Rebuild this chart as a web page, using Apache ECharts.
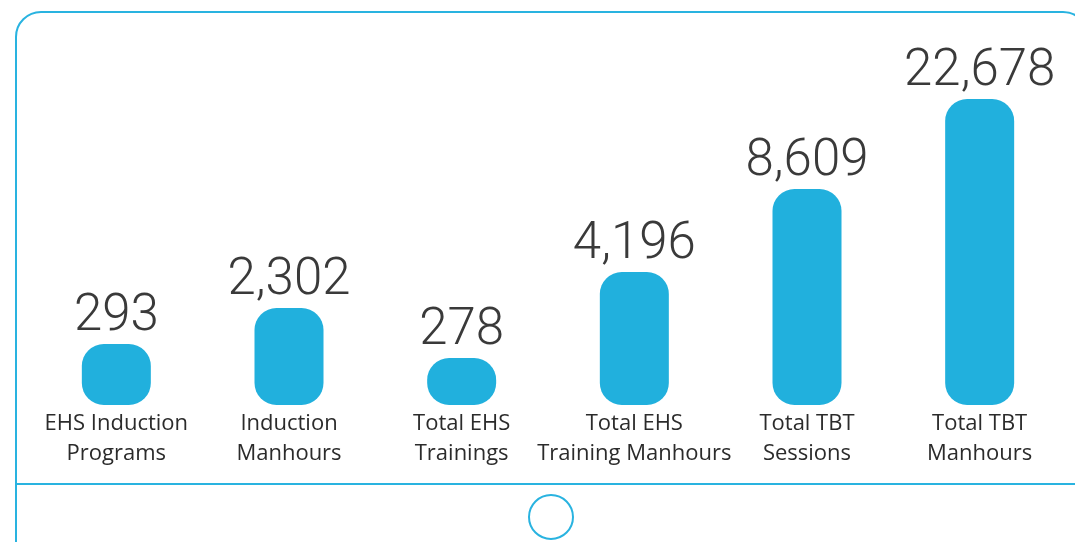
<!DOCTYPE html>
<html><head><meta charset="utf-8">
<script src="https://cdn.jsdelivr.net/npm/echarts@6/dist/echarts.min.js"></script>
<style>html,body{margin:0;padding:0;background:#fff}#c{width:1075px;height:542px}</style>
</head><body><div id="c"></div>
<script>
const categories = ['EHS Induction\nPrograms','Induction\nManhours','Total EHS\nTrainings','Total EHS\nTraining Manhours','Total TBT\nSessions','Total TBT\nManhours'];
const values = [293, 2302, 278, 4196, 8609, 22678];
// visual bar heights as drawn in the infographic (not proportional to values)
const barHeights = [61, 97, 47, 133, 216, 306];

const chart = echarts.init(document.getElementById('c'));
chart.setOption({
  animation: false,
  grid: {left: 30, right: 9, top: 85, bottom: 137},
  xAxis: {
    type: 'category', data: categories,
    axisLine: {show: false}, axisTick: {show: false},
    axisLabel: {color: '#2b2b2b', fontFamily: 'Open Sans', fontSize: 22, lineHeight: 30, margin: 4, interval: 0}
  },
  yAxis: {type: 'value', min: 0, max: 320, show: false, splitLine: {show: false}},
  series: [{
    type: 'bar',
    data: barHeights.map((h, i) => ({value: h, realValue: values[i]})),
    barWidth: 69,
    itemStyle: {color: '#21b0dd', borderRadius: 22},
    label: {
      show: true, position: 'top', distance: 1,
      fontFamily: 'Roboto', fontWeight: 300, fontSize: 51, color: '#3a3a3a',
      formatter: p => values[p.dataIndex].toLocaleString('en-US')
    }
  }],
  graphic: [
    {type: 'rect', shape: {x: 16, y: 12, width: 1072, height: 620, r: 25}, style: {fill: 'none', stroke: '#29b3e0', lineWidth: 2}, z: -1},
    {type: 'line', shape: {x1: 16, y1: 484, x2: 1075, y2: 484}, style: {stroke: '#29b3e0', lineWidth: 2}},
    {type: 'circle', shape: {cx: 551, cy: 517, r: 22}, style: {fill: 'none', stroke: '#29b3e0', lineWidth: 2}}
  ]
});
</script></body></html>
